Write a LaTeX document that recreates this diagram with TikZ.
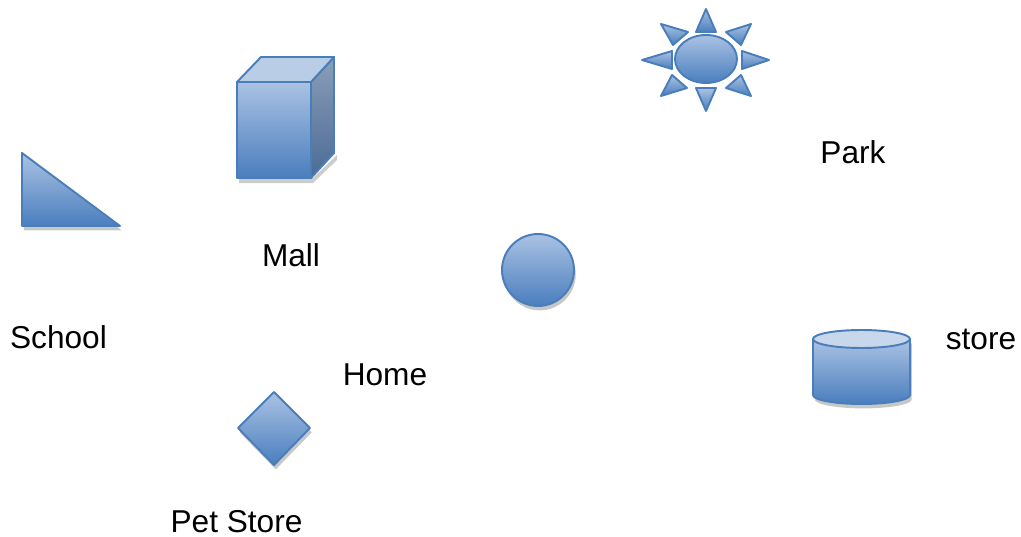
\documentclass[tikz,border=0pt]{standalone}
\usepackage{fontspec}
\setmainfont{Liberation Sans}
\usetikzlibrary{shadows}
\definecolor{bfill1}{HTML}{AAC2E3}
\definecolor{bfill2}{HTML}{4A7EBE}
\definecolor{bline}{HTML}{4A7EBB}
\definecolor{sidetop}{HTML}{8A9EB8}
\definecolor{sidebot}{HTML}{4B6B96}
\definecolor{topface}{HTML}{B9CDE6}
\definecolor{cyltop}{HTML}{C8D7EB}
\tikzset{
  shp/.style={draw=bline, line width=1.1pt, line join=round, top color=bfill1, bottom color=bfill2},
  shd/.style={drop shadow={shadow xshift=1pt, shadow yshift=-2.5pt, opacity=0.22, fill=black}},
  lbl/.style={font=\fontsize{18}{20}\selectfont, anchor=base, inner sep=0pt}
}
\begin{document}
\begin{tikzpicture}[x=0.02cm, y=-0.02cm]
\useasboundingbox (0,0) rectangle (1021,537);

% School triangle
\draw[shp, shd] (22,153) -- (120,226) -- (22,226) -- cycle;

% Mall cube
\fill[black, opacity=0.2] (239,178) -- (313,178) -- (337,155) -- (337,160) -- (313,183) -- (239,183) -- cycle;
\draw[shp] (237,82) rectangle (311,178);
\draw[draw=bline, line width=1.1pt, line join=round, top color=sidetop, bottom color=sidebot] (311,82) -- (334,57) -- (334,153) -- (311,178) -- cycle;
\draw[draw=bline, line width=1.1pt, line join=round, fill=topface] (237,82) -- (261,57) -- (334,57) -- (311,82) -- cycle;

% Home circle
\draw[shp, shd] (538,270) circle[radius=0.72cm];

% Park sun
\draw[shp] (706,9) -- (716,32) -- (696,32) -- cycle;
\draw[shp] (706,111) -- (716,88) -- (696,88) -- cycle;
\draw[shp] (642,60) -- (672,51) -- (672,69) -- cycle;
\draw[shp] (769,60) -- (742,51) -- (742,69) -- cycle;
\draw[shp] (661,24) -- (688,32) -- (673,45) -- cycle;
\draw[shp] (751,24) -- (726,32) -- (741,45) -- cycle;
\draw[shp] (661,96) -- (672,75) -- (687,88) -- cycle;
\draw[shp] (751,96) -- (741,75) -- (726,88) -- cycle;
\draw[shp] (706,59) ellipse[x radius=0.62cm, y radius=0.48cm];

% store cylinder
\draw[shp, shd] (813,339) -- (813,395) arc[start angle=180, end angle=360, x radius=0.97cm, y radius=0.18cm] -- (910,339) -- cycle;
\draw[draw=bline, line width=1.1pt, fill=cyltop] (861.5,339) ellipse[x radius=0.97cm, y radius=0.18cm];

% Pet Store diamond
\draw[shp, shd] (274,392) -- (310,428) -- (274,465) -- (238,428) -- cycle;

% labels
\node[lbl] (park) at (853,163) {Park};
\node[lbl] (mall) at (291,266) {Mall};
\node[lbl] (school) at (58.5,348) {School};
\node[lbl] (home) at (385,385) {Home};
\node[lbl] (store) at (981,349) {store};
\node[lbl] (pet) at (236.5,532) {Pet Store};
\end{tikzpicture}
\end{document}
